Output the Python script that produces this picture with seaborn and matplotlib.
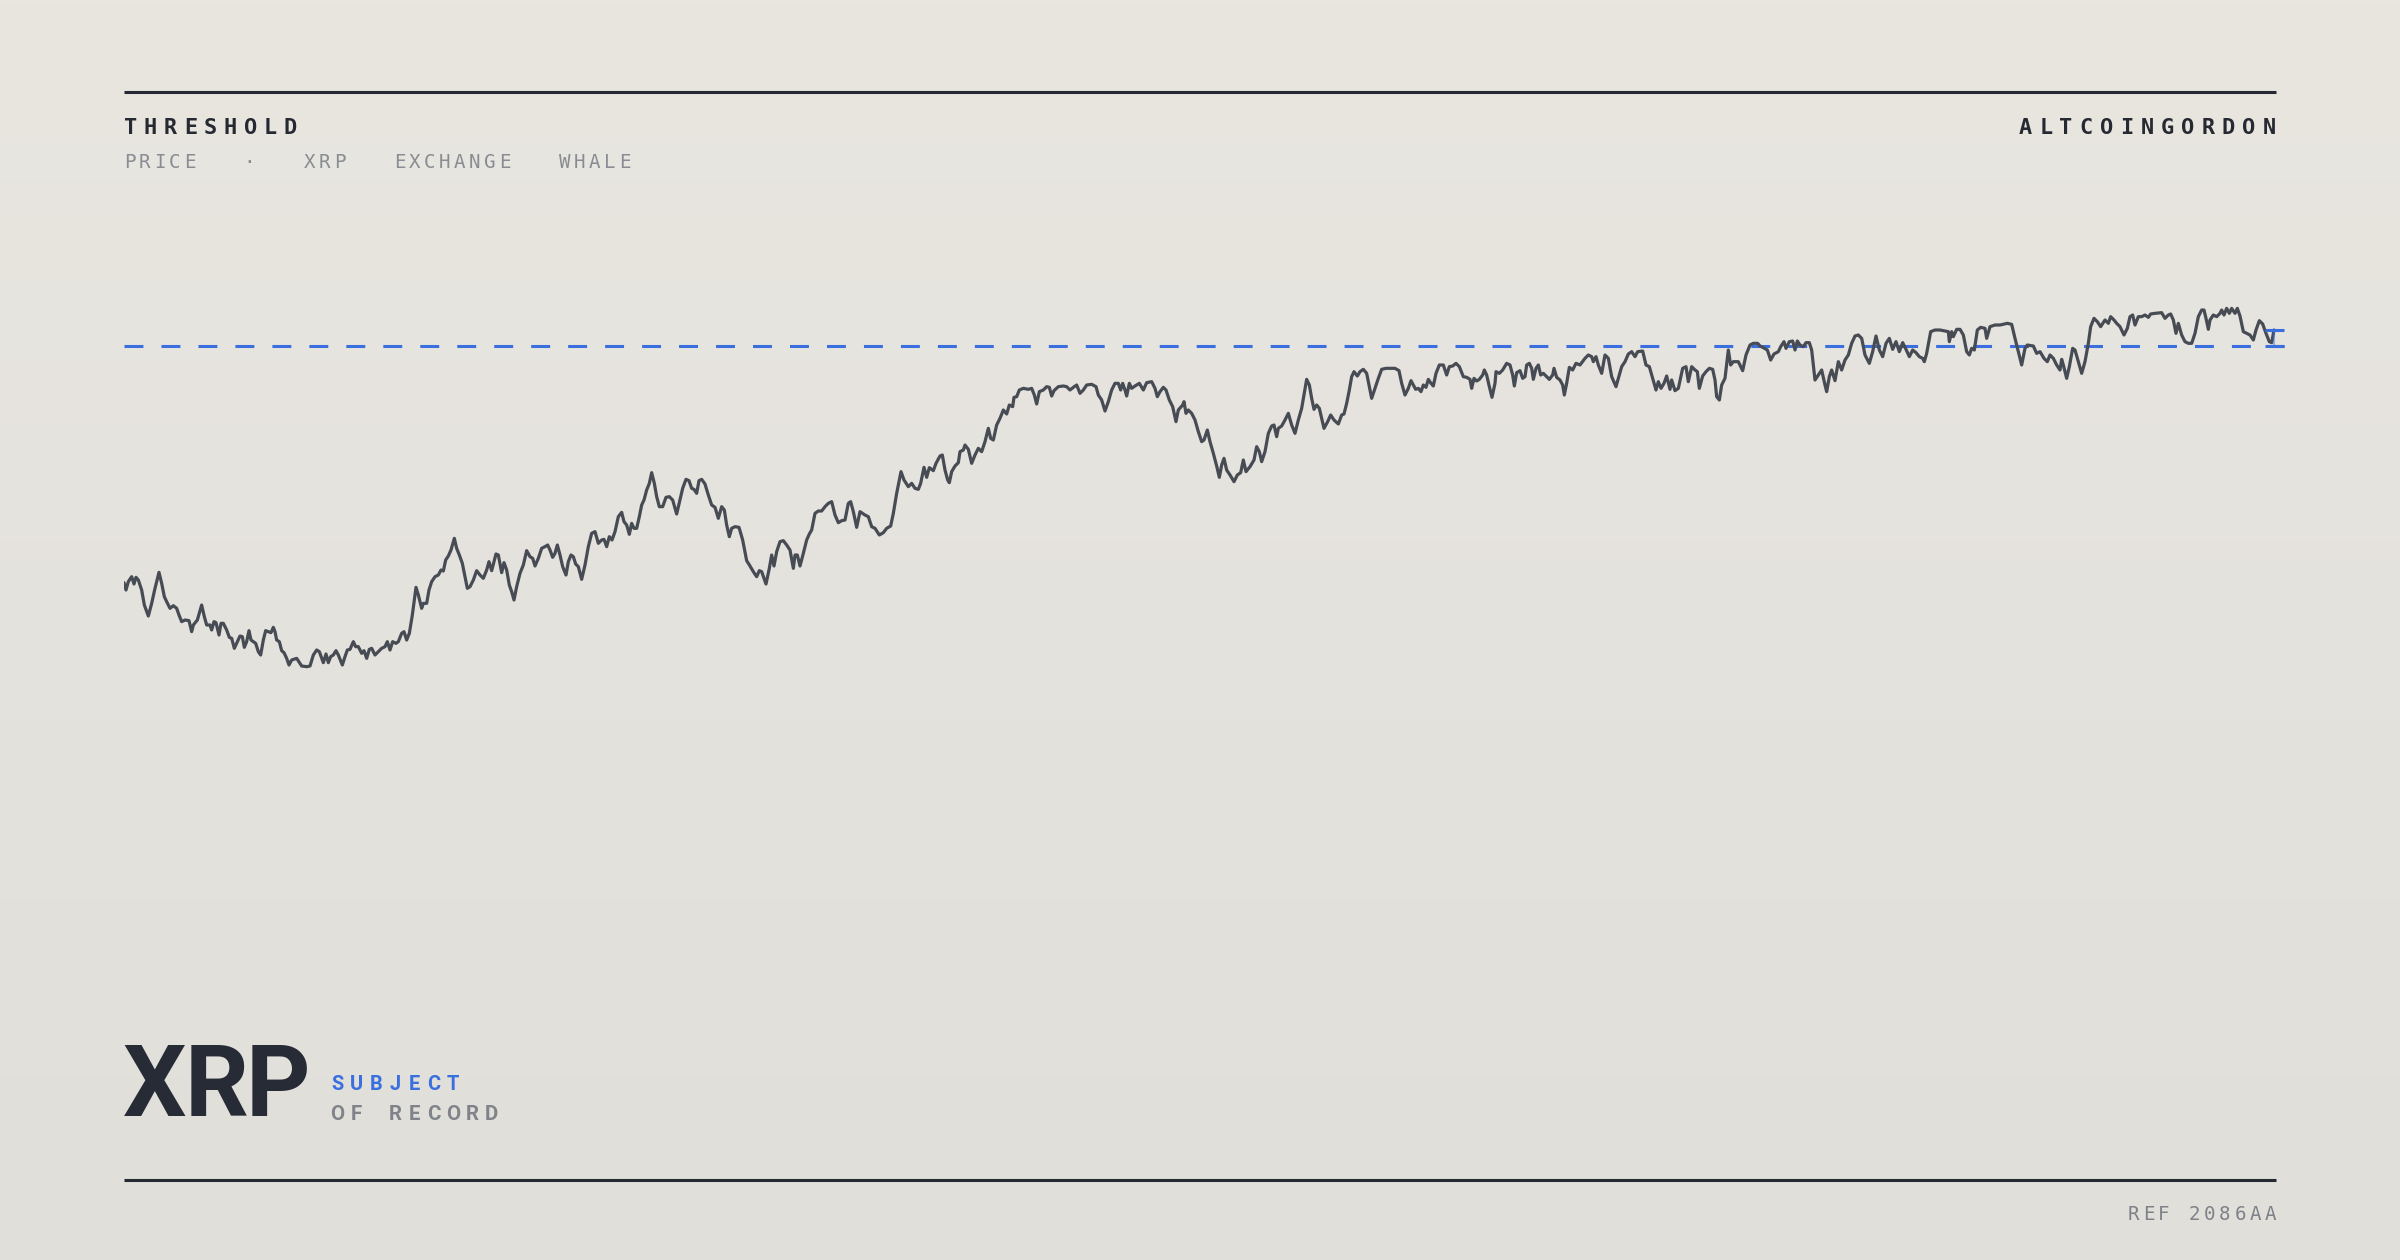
import numpy as np
import matplotlib
matplotlib.use("Agg")
import matplotlib.pyplot as plt
from matplotlib.colors import LinearSegmentedColormap
import seaborn as sns

# ---------------- data (hours since start, XRP price in USD) ----------------
hours = [
    0, 6, 13, 23, 30, 36, 43, 53, 61, 73, 83, 93, 105, 113, 121, 128, 138, 148, 158, 165,
    173, 183, 195, 203, 208, 220, 233, 241, 248, 258, 263, 270, 276, 285, 291, 298, 308, 316, 323, 331,
    338, 348, 355, 361, 368, 375, 381, 388, 395, 403, 410, 418, 425, 433, 441, 448, 453, 458, 466, 473,
    480, 488, 495, 503, 518, 533, 548, 558, 568, 578, 586, 598, 606, 613, 620, 628, 636, 643, 655, 663,
    670, 678, 688, 695, 703, 713, 720, 728, 736, 743, 753, 763, 773, 783, 790, 798, 806, 816, 823, 833,
    840, 848, 856, 865, 876, 883, 893, 898, 908, 915, 923, 933, 943, 951, 958, 965, 973, 981, 991, 998,
    1006, 1015, 1023, 1030, 1038, 1048, 1058, 1068, 1078, 1088, 1095,
    1103, 1116, 1123, 1133, 1140, 1148, 1156, 1163, 1170, 1178, 1188, 1198, 1208, 1218, 1226, 1233, 1243, 1253, 1263, 1271,
    1278, 1286, 1293, 1300, 1308, 1316, 1326, 1333, 1341, 1348, 1355, 1363, 1373, 1383, 1393, 1403, 1413, 1423, 1433, 1440,
    1448, 1456, 1464, 1473, 1483, 1493, 1500, 1508, 1516, 1523, 1530, 1538, 1546, 1553, 1560, 1568, 1576, 1583, 1591, 1598,
    1606, 1616, 1626, 1636, 1646, 1658, 1668, 1676, 1686, 1695, 1703, 1710, 1718, 1725, 1733, 1743, 1753, 1763, 1773, 1783,
    1793, 1801, 1808, 1816, 1823, 1833, 1845, 1856, 1868, 1878, 1888, 1898, 1906, 1913, 1920, 1926, 1936, 1943, 1950, 1958,
    1968, 1978, 1988, 1998, 2008, 2013, 2020, 2028, 2038, 2048, 2056, 2063, 2073, 2083, 2093, 2103, 2113, 2123, 2133, 2143,
    2153, 2163, 2173, 2180, 2188, 2198, 2208,
    2223, 2233, 2243, 2253, 2266, 2278, 2288, 2300, 2308, 2318, 2331, 2340, 2353, 2363, 2373, 2383, 2390, 2400, 2408, 2416,
    2428, 2436, 2448, 2455, 2463, 2471, 2476, 2483, 2493, 2503, 2508, 2518, 2523, 2533, 2543, 2553, 2563, 2573, 2583, 2593,
    2600, 2608, 2618, 2628, 2638, 2648, 2656, 2666, 2670, 2678, 2686, 2698, 2713, 2723, 2731, 2738, 2746, 2758, 2768, 2776,
    2783, 2790, 2803, 2818, 2828, 2838, 2848, 2858, 2868, 2878, 2888, 2903, 2916, 2923, 2933, 2943, 2953, 2963, 2973, 2983,
    2990, 2996, 3003, 3008, 3016, 3023, 3033, 3046, 3058, 3068, 3083, 3093, 3100, 3108, 3118, 3126, 3136, 3146, 3156, 3163,
    3176, 3180, 3186, 3193, 3203, 3213, 3223, 3233, 3240, 3250, 3258, 3268, 3278, 3286, 3293, 3300, 3308, 3318,
    3330, 3340, 3350, 3358, 3366, 3378, 3390, 3398, 3406, 3413, 3423, 3433, 3443, 3450, 3458, 3463, 3473, 3483, 3493, 3503,
    3513, 3523, 3533, 3540, 3548, 3556, 3563, 3570, 3578, 3586, 3600, 3611, 3620, 3630, 3643, 3653, 3660, 3668, 3676, 3683,
    3690, 3700, 3708, 3718, 3728, 3735, 3743, 3753, 3763, 3773, 3786, 3798, 3813, 3825, 3833, 3843, 3853, 3861, 3868, 3875,
    3883, 3891, 3898, 3906, 3913, 3921, 3928, 3936, 3946, 3958, 3968, 3976, 3986, 3996, 4006, 4018, 4028, 4038, 4043, 4050,
    4058, 4066, 4076, 4081, 4088, 4096, 4104, 4113, 4116, 4126, 4136, 4148, 4158, 4166, 4171, 4178, 4188, 4196, 4203, 4208,
    4216, 4223, 4228, 4236, 4243, 4250, 4258, 4266, 4276, 4286, 4290, 4298, 4308, 4316, 4321, 4328, 4336, 4346, 4356, 4368,
    4383, 4393, 4403, 4408, 4416, 4423, 4433, 4443, 4453, 4463, 4476, 4483, 4493, 4503, 4513, 4523, 4533, 4541, 4556, 4566,
    4576, 4586, 4596, 4603, 4611, 4620, 4628, 4638, 4643, 4653, 4663, 4676, 4686, 4693, 4703, 4713, 4720, 4726, 4736, 4746,
    4756, 4766, 4773, 4778, 4786, 4793, 4803, 4813, 4820, 4828, 4843, 4856, 4866, 4878, 4888, 4901, 4908, 4918, 4930, 4940,
    4950, 4963, 4970, 4980, 4986, 4996, 5006, 5013, 5020, 5028, 5038, 5046, 5056, 5063, 5073, 5083, 5093, 5103, 5108, 5116,
    5123, 5133, 5143, 5153, 5163, 5173, 5183, 5193, 5203, 5213, 5223, 5236, 5246, 5256, 5266, 5276, 5286, 5296, 5306, 5316,
    5326, 5336, 5346, 5356, 5366, 5376, 5386, 5396, 5401, 5408, 5420, 5433, 5448,
    5473, 5476, 5483, 5488, 5498, 5508, 5518, 5528, 5536, 5543, 5551, 5560, 5570, 5583, 5588, 5598, 5613, 5628, 5650, 5663,
    5673, 5683, 5693, 5703, 5710, 5728, 5738, 5748, 5760, 5770, 5778, 5788, 5798, 5808, 5813, 5818, 5828, 5836, 5846, 5853,
    5863, 5873, 5883, 5893, 5900, 5910, 5920, 5930, 5943, 5953, 5960, 5970, 5978, 5988, 6000, 6010, 6018, 6026, 6033, 6043,
    6053, 6063, 6073, 6080, 6093, 6113, 6123, 6133, 6140, 6148, 6156, 6163, 6173, 6183, 6193, 6203, 6213, 6223, 6233, 6240,
    6246, 6253, 6258, 6268, 6278, 6288, 6293, 6300, 6308, 6316, 6323, 6333, 6340, 6348, 6358, 6368, 6378, 6388, 6396, 6406,
    6416, 6426, 6436, 6443, 6450,
]

price = [
    2.290, 2.268, 2.293, 2.308, 2.286, 2.306, 2.298, 2.268, 2.223, 2.190, 2.228, 2.273, 2.321, 2.288, 2.248, 2.233, 2.213, 2.221, 2.213, 2.193,
    2.173, 2.178, 2.176, 2.143, 2.163, 2.178, 2.223, 2.188, 2.163, 2.163, 2.148, 2.173, 2.170, 2.133, 2.168, 2.168, 2.148, 2.126, 2.123, 2.093,
    2.108, 2.130, 2.128, 2.096, 2.113, 2.146, 2.118, 2.113, 2.108, 2.083, 2.073, 2.118, 2.146, 2.143, 2.140, 2.156, 2.143, 2.118, 2.113, 2.086,
    2.080, 2.063, 2.043, 2.058, 2.063, 2.040, 2.038, 2.040, 2.073, 2.088, 2.083, 2.050, 2.076, 2.050, 2.068, 2.073, 2.086, 2.073, 2.043, 2.068,
    2.088, 2.090, 2.113, 2.098, 2.098, 2.078, 2.086, 2.063, 2.090, 2.093, 2.073, 2.083, 2.093, 2.098, 2.113, 2.088, 2.113, 2.108, 2.113, 2.138,
    2.143, 2.118, 2.138, 2.193, 2.276, 2.253, 2.213, 2.228, 2.228, 2.268, 2.293, 2.308, 2.313, 2.328, 2.325, 2.358, 2.370, 2.388, 2.423, 2.393,
    2.373, 2.348, 2.308, 2.273, 2.278, 2.298, 2.326, 2.313, 2.303, 2.328, 2.353,
    2.326, 2.376, 2.373, 2.320, 2.350, 2.328, 2.283, 2.263, 2.238, 2.278, 2.318, 2.343, 2.386, 2.368, 2.363, 2.340, 2.363, 2.393, 2.398, 2.403,
    2.388, 2.366, 2.378, 2.403, 2.373, 2.338, 2.313, 2.353, 2.373, 2.368, 2.346, 2.338, 2.300, 2.343, 2.398, 2.438, 2.443, 2.408, 2.418, 2.420,
    2.398, 2.428, 2.418, 2.443, 2.488, 2.501, 2.473, 2.463, 2.435, 2.468, 2.453, 2.453, 2.488, 2.523, 2.538, 2.568, 2.588, 2.620, 2.588, 2.548,
    2.518, 2.518, 2.546, 2.548, 2.538, 2.496, 2.538, 2.573, 2.600, 2.596, 2.573, 2.570, 2.558, 2.596, 2.600, 2.586, 2.553, 2.523, 2.516, 2.483,
    2.518, 2.508, 2.463, 2.428, 2.453, 2.458, 2.456, 2.418, 2.356, 2.340, 2.323, 2.308, 2.326, 2.323, 2.303, 2.286, 2.333, 2.373, 2.340, 2.383,
    2.413, 2.416, 2.403, 2.388, 2.333, 2.373, 2.373, 2.340, 2.378, 2.418, 2.436, 2.448, 2.498, 2.505, 2.505, 2.518, 2.528, 2.533, 2.493, 2.470,
    2.476, 2.478, 2.528, 2.533, 2.503, 2.456, 2.503,
    2.493, 2.488, 2.458, 2.453, 2.433, 2.440, 2.453, 2.460, 2.498, 2.558, 2.623, 2.598, 2.578, 2.588, 2.573, 2.570, 2.588, 2.636, 2.606, 2.635,
    2.626, 2.648, 2.670, 2.673, 2.628, 2.598, 2.590, 2.623, 2.640, 2.650, 2.683, 2.688, 2.703, 2.690, 2.648, 2.673, 2.693, 2.683, 2.713, 2.753,
    2.723, 2.718, 2.763, 2.783, 2.808, 2.796, 2.823, 2.818, 2.846, 2.848, 2.868, 2.873, 2.870, 2.873, 2.853, 2.826, 2.863, 2.868, 2.878, 2.876,
    2.850, 2.866, 2.878, 2.880, 2.878, 2.868, 2.876, 2.883, 2.858, 2.868, 2.883, 2.885, 2.878, 2.853, 2.838, 2.805, 2.833, 2.868, 2.888, 2.888,
    2.868, 2.888, 2.868, 2.850, 2.888, 2.873, 2.880, 2.888, 2.868, 2.890, 2.893, 2.873, 2.848, 2.863, 2.876, 2.868, 2.838, 2.818, 2.773, 2.808,
    2.823, 2.833, 2.798, 2.808, 2.798, 2.778, 2.743, 2.713, 2.718, 2.748, 2.713, 2.678, 2.640, 2.606, 2.643, 2.663, 2.628, 2.613,
    2.593, 2.613, 2.620, 2.658, 2.623, 2.638, 2.658, 2.698, 2.683, 2.653, 2.683, 2.738, 2.760, 2.763, 2.728, 2.753, 2.760, 2.778, 2.798, 2.763,
    2.738, 2.778, 2.813, 2.853, 2.900, 2.883, 2.843, 2.810, 2.823, 2.813, 2.753, 2.773, 2.793, 2.778, 2.766, 2.793, 2.796, 2.828, 2.868, 2.908,
    2.923, 2.910, 2.923, 2.930, 2.918, 2.883, 2.843, 2.873, 2.903, 2.930, 2.933, 2.933, 2.933, 2.926, 2.888, 2.853, 2.873, 2.896, 2.883, 2.870,
    2.873, 2.863, 2.883, 2.876, 2.900, 2.888, 2.880, 2.918, 2.943, 2.943, 2.913, 2.938, 2.940, 2.948, 2.938, 2.908, 2.906, 2.900, 2.873, 2.903,
    2.895, 2.900, 2.913, 2.928, 2.913, 2.878, 2.846, 2.888, 2.923, 2.918, 2.928, 2.948, 2.943, 2.913, 2.880, 2.920, 2.926, 2.903, 2.908, 2.943,
    2.948, 2.933, 2.900, 2.933, 2.943, 2.913, 2.918, 2.910, 2.900, 2.913, 2.933, 2.906, 2.898, 2.883, 2.853, 2.888, 2.936, 2.928, 2.948, 2.943,
    2.963, 2.973, 2.968, 2.953, 2.968, 2.943, 2.918, 2.973, 2.963, 2.908, 2.878, 2.903, 2.938, 2.953, 2.976, 2.983, 2.968, 2.983, 2.985, 2.943,
    2.938, 2.903, 2.868, 2.893, 2.873, 2.888, 2.910, 2.870, 2.898, 2.866, 2.873, 2.933, 2.938, 2.893, 2.938, 2.928, 2.923, 2.873, 2.910, 2.923,
    2.933, 2.930, 2.898, 2.848, 2.838, 2.883, 2.903, 2.988, 2.943, 2.953, 2.953, 2.926, 2.973, 3.003, 3.008, 3.008, 3.000, 2.995, 2.988, 2.958,
    2.976, 2.983, 2.998, 3.013, 2.993, 3.013, 3.015, 2.988, 3.015, 3.003, 2.998, 3.010, 3.010, 2.988, 2.898, 2.913, 2.928, 2.883, 2.863, 2.908,
    2.928, 2.896, 2.953, 2.928, 2.958, 2.973, 3.008, 3.030, 3.033, 3.023, 2.973, 2.948, 2.983, 3.030, 2.988, 2.968, 3.008, 3.023, 2.990, 3.013,
    2.983, 3.010, 2.990, 2.968, 2.988, 2.980, 2.968, 2.963, 2.953, 2.978, 3.043, 3.048, 3.048,
    3.043, 3.013, 3.043, 3.028, 3.050, 3.050, 3.033, 2.983, 2.973, 2.993, 2.988, 3.048, 3.056, 3.053, 3.023, 3.058, 3.063, 3.063, 3.068, 3.065,
    3.023, 2.983, 2.943, 2.993, 3.003, 3.000, 2.978, 2.983, 2.963, 2.953, 2.973, 2.963, 2.943, 2.928, 2.960, 2.943, 2.903, 2.938, 2.993, 2.988,
    2.953, 2.918, 2.953, 3.008, 3.058, 3.083, 3.073, 3.058, 3.078, 3.068, 3.088, 3.078, 3.068, 3.058, 3.033, 3.053, 3.088, 3.093, 3.063, 3.088,
    3.088, 3.093, 3.086, 3.096, 3.098, 3.100, 3.083, 3.093, 3.096, 3.078, 3.038, 3.068, 3.033, 3.013, 3.008, 3.008, 3.038, 3.088, 3.108, 3.108,
    3.083, 3.050, 3.078, 3.093, 3.088, 3.098, 3.108, 3.093, 3.113, 3.098, 3.113, 3.098, 3.113, 3.090, 3.043, 3.038, 3.033, 3.018, 3.048, 3.076,
    3.066, 3.038, 3.013, 3.010, 3.048,
]

threshold = 3.00

title = "THRESHOLD"
subtitle = "PRICE   ·   XRP   EXCHANGE   WHALE"
brand = "ALTCOINGORDON"
asset = "XRP"
tag_top = "SUBJECT"
tag_bottom = "OF RECORD"
ref_code = "REF 2086AA"

# ---------------- styling ----------------
W, H = 2400, 1260
INK = "#252932"
LINE = "#474b54"
BLUE = "#3a6fe0"
GREY = "#898c92"

sns.set_theme(style="white")
plt.rcParams["font.family"] = ["DejaVu Sans Mono", "DejaVu Sans"]

fig = plt.figure(figsize=(12, 6.3), dpi=200)

# background gradient
bg = fig.add_axes([0, 0, 1, 1], zorder=0)
cmap = LinearSegmentedColormap.from_list("bg", ["#e9e6e0", "#e0dfda"])
bg.imshow(np.linspace(0, 1, 256)[:, None], aspect="auto", cmap=cmap,
          extent=[0, 1, 0, 1], origin="upper")
bg.set_xlim(0, 1)
bg.set_ylim(0, 1)
bg.axis("off")

# horizontal rules
for ypx in (92, 1180):
    bg.plot([124 / W, 2276 / W], [1 - ypx / H] * 2, color=INK, lw=1.1,
            solid_capstyle="butt")

# main chart axes
ax = fig.add_axes([124 / W, 1 - 1000 / H, 2152 / W, 820 / H], zorder=2)
ax.patch.set_alpha(0)
sns.lineplot(x=hours, y=price, ax=ax, color=LINE, lw=1.15, estimator=None,
             sort=False)
ax.set_xlim(0, 6456)
ax.set_ylim(threshold - 654 * 0.003, threshold + 166 * 0.003)
ax.axhline(threshold, xmin=0, xmax=1.0035, color=BLUE, lw=1.1,
           ls=(0, (6.2, 5.9)), clip_on=False, zorder=1)

# gap bracket between last value and threshold
x_last, y_last = hours[-1], price[-1]
ax.vlines(x_last, threshold, y_last, color=BLUE, lw=0.8, alpha=0.45,
          clip_on=False, zorder=3)
ax.hlines([threshold, y_last], x_last - 28, x_last + 30, color=BLUE, lw=1.1,
          clip_on=False, zorder=3)
ax.axis("off")


def spaced(xc0, ypx, s, pitch, anchor="left", **kw):
    """Place characters at a fixed pitch (pixels). xc0 = centre of first
    char (anchor='left') or of last char (anchor='right')."""
    n = len(s)
    if anchor == "right":
        xc0 = xc0 - (n - 1) * pitch
    for i, ch in enumerate(s):
        if ch == " ":
            continue
        fig.text((xc0 + i * pitch) / W, 1 - ypx / H, ch, ha="center",
                 va="baseline", **kw)


mono = ["DejaVu Sans Mono", "DejaVu Sans"]
spaced(130.5, 134, title, 20.0, family=mono, weight="bold", fontsize=7.9,
       color=INK)
spaced(2269, 134, brand, 20.3, anchor="right", family=mono, weight="bold",
       fontsize=7.9, color=INK)
spaced(129.5, 168, subtitle, 15.0, family=mono, fontsize=6.9, color=GREY)
spaced(2270.5, 1220, ref_code, 15.2, anchor="right", family=mono,
       fontsize=6.9, color="#7e8187")

# big asset label, slightly tightened
renderer = fig.canvas.get_renderer()
gaps = [-2.0, -3.0]
xpos = 123.0
for i, ch in enumerate(asset):
    t = fig.text(xpos / W, 1 - 1116 / H, ch, family=["Roboto", "DejaVu Sans"],
                 weight="bold", fontsize=36.0, color="#272b35", ha="left",
                 va="baseline")
    if i < len(gaps):
        xpos += t.get_window_extent(renderer).width + gaps[i]

spaced(337.5, 1090, tag_top, 19.2, family=["Roboto", "DejaVu Sans"],
       weight="bold", fontsize=7.2, color=BLUE)
spaced(337.5, 1120, tag_bottom, 19.2, family=["Roboto", "DejaVu Sans"],
       weight="bold", fontsize=7.4, color="#80838a")

fig.savefig("out.png", dpi=200)
